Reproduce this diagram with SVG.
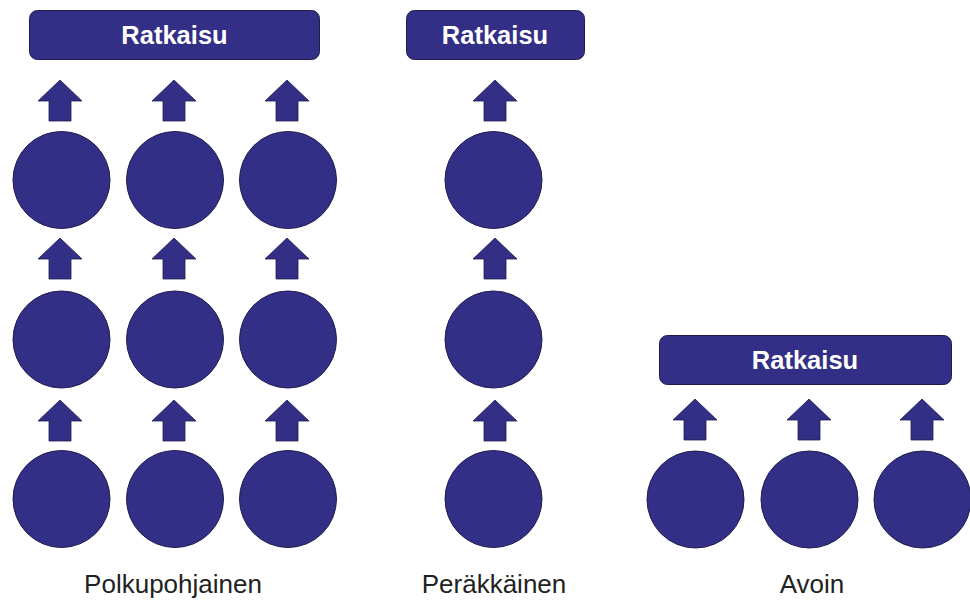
<svg xmlns="http://www.w3.org/2000/svg" xmlns:xlink="http://www.w3.org/1999/xlink" width="970" height="601" viewBox="0 0 970 601">
<style>
.n{fill:#332f86;stroke:#1f1d4f;stroke-width:1}
.box{fill:#332f86;stroke:#1f1d4f;stroke-width:1}
.bt{font-family:"Liberation Sans",Arial,sans-serif;font-weight:bold;font-size:25.5px;fill:#ffffff;text-anchor:middle}
.lbl{font-family:"Liberation Sans",Arial,sans-serif;font-size:26px;fill:#222222;text-anchor:middle}
.ar{fill:#332f86;stroke:#1f1d4f;stroke-width:0.8}
</style>
<defs>
<path id="arrow" class="ar" d="M0,0 L22,21 L11,21 L11,41 L-11,41 L-11,21 L-22,21 Z"/>
</defs>
<rect width="970" height="601" fill="#ffffff"/>
<g id="connectors">
<use xlink:href="#arrow" x="60" y="80"/>
<use xlink:href="#arrow" x="174" y="80"/>
<use xlink:href="#arrow" x="287" y="80"/>
<use xlink:href="#arrow" x="60" y="238"/>
<use xlink:href="#arrow" x="174" y="238"/>
<use xlink:href="#arrow" x="287" y="238"/>
<use xlink:href="#arrow" x="60" y="400"/>
<use xlink:href="#arrow" x="174" y="400"/>
<use xlink:href="#arrow" x="287" y="400"/>
<use xlink:href="#arrow" x="495" y="80"/>
<use xlink:href="#arrow" x="495" y="238"/>
<use xlink:href="#arrow" x="495" y="400"/>
<use xlink:href="#arrow" x="695" y="399"/>
<use xlink:href="#arrow" x="809" y="399"/>
<use xlink:href="#arrow" x="922" y="399"/>
</g>
<g id="ratkaisu1"><rect class="box" x="29.5" y="10.5" width="290" height="49" rx="8"/><text class="bt" x="174.5" y="44">Ratkaisu</text></g>
<g id="ratkaisu2"><rect class="box" x="406.5" y="10.5" width="178" height="49" rx="8"/><text class="bt" x="495" y="44">Ratkaisu</text></g>
<g id="ratkaisu3"><rect class="box" x="659.5" y="335.5" width="292" height="49" rx="8"/><text class="bt" x="805" y="369">Ratkaisu</text></g>
<g id="p11"><circle class="n" cx="61.5" cy="180" r="48.5"/></g>
<g id="p12"><circle class="n" cx="175" cy="180" r="48.5"/></g>
<g id="p13"><circle class="n" cx="288" cy="180" r="48.5"/></g>
<g id="p21"><circle class="n" cx="61.5" cy="339.5" r="48.5"/></g>
<g id="p22"><circle class="n" cx="175" cy="339.5" r="48.5"/></g>
<g id="p23"><circle class="n" cx="288" cy="339.5" r="48.5"/></g>
<g id="p31"><circle class="n" cx="61.5" cy="499" r="48.5"/></g>
<g id="p32"><circle class="n" cx="175" cy="499" r="48.5"/></g>
<g id="p33"><circle class="n" cx="288" cy="499" r="48.5"/></g>
<g id="s1"><circle class="n" cx="493.5" cy="180" r="48.5"/></g>
<g id="s2"><circle class="n" cx="493.5" cy="339.5" r="48.5"/></g>
<g id="s3"><circle class="n" cx="493.5" cy="499" r="48.5"/></g>
<g id="a1"><circle class="n" cx="695.5" cy="499.5" r="48.5"/></g>
<g id="a2"><circle class="n" cx="809.5" cy="499.5" r="48.5"/></g>
<g id="a3"><circle class="n" cx="922.5" cy="499.5" r="48.5"/></g>
<g id="labels">
<text class="lbl" x="173" y="593">Polkupohjainen</text>
<text class="lbl" x="494" y="593">Peräkkäinen</text>
<text class="lbl" x="812" y="593">Avoin</text>
</g>
</svg>
